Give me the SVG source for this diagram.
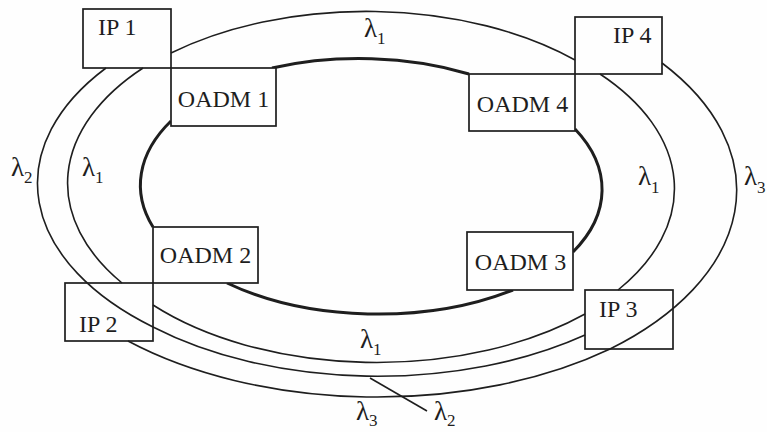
<svg xmlns="http://www.w3.org/2000/svg" width="767" height="432" viewBox="0 0 767 432">
<style>
.bg{fill:#fefefe}
.ring{fill:none;stroke:#1e1e1e;stroke-width:1.6}
.core{fill:none;stroke:#1e1e1e;stroke-width:3}
.ip{fill:none;stroke:#1e1e1e;stroke-width:1.7}
.oadm{fill:#ffffff;stroke:#1e1e1e;stroke-width:1.7}
.t{font-family:"Liberation Serif","Times New Roman",serif;font-size:24px;fill:#1e1e1e}
.l{font-size:27px}
.s{font-size:17px}
</style>
<rect class="bg" x="0" y="0" width="767" height="432"/>
<g id="connectors">
  <!-- inner physical ring -->
  <path class="core" d="M272,68 A232,129 0 0 1 469,74"/>
  <path class="core" d="M171,121 A232,129 0 0 0 153,227"/>
  <path class="core" d="M575,129 A232,129 0 0 1 573,252"/>
  <path class="core" d="M227,283 A232,129 0 0 0 513,290"/>
  <!-- lambda 1 -->
  <path class="ring" d="M171,53 A301,174 0 0 1 575,60"/>
  <path class="ring" d="M143,68 A301,174 0 0 0 122,283"/>
  <path class="ring" d="M600,74 A301,174 0 0 1 618,290"/>
  <path class="ring" d="M153,305 A301,174 0 0 0 585,314"/>
  <!-- lambda 2 -->
  <path class="ring" d="M106,68 A334,190 0 0 0 153,327 A334,190 0 0 0 585,335"/>
  <!-- lambda 3 -->
  <path class="ring" d="M662,63 A366,210 0 0 1 610,349 A366,210 0 0 1 128,341"/>
  <!-- leader for bottom lambda 2 -->
  <line class="ring" x1="370" y1="378" x2="427" y2="411"/>
</g>
<g id="IP1"><rect class="ip" x="83" y="9" width="88" height="59"/><text class="t" x="98" y="35">IP 1</text></g>
<g id="OADM1"><rect class="oadm" x="171" y="68" width="105" height="58"/><text class="t" x="223.5" y="107" text-anchor="middle">OADM 1</text></g>
<g id="IP4"><rect class="ip" x="575" y="17" width="87" height="57"/><text class="t" x="613" y="43">IP 4</text></g>
<g id="OADM4"><rect class="oadm" x="469" y="74" width="106" height="57"/><text class="t" x="522.5" y="112" text-anchor="middle">OADM 4</text></g>
<g id="OADM2"><rect class="oadm" x="153" y="227" width="105" height="56"/><text class="t" x="205.5" y="263" text-anchor="middle">OADM 2</text></g>
<g id="IP2"><rect class="ip" x="65" y="283" width="88" height="58"/><text class="t" x="79" y="332">IP 2</text></g>
<g id="OADM3"><rect class="oadm" x="467" y="232" width="106" height="58"/><text class="t" x="520.5" y="270" text-anchor="middle">OADM 3</text></g>
<g id="IP3"><rect class="ip" x="585" y="290" width="88" height="59"/><text class="t" x="599" y="317">IP 3</text></g>
<g id="labels">
  <text class="t l" x="364" y="37">λ<tspan class="s" dy="7">1</tspan></text>
  <text class="t l" x="11" y="176">λ<tspan class="s" dy="7">2</tspan></text>
  <text class="t l" x="82" y="176">λ<tspan class="s" dy="7">1</tspan></text>
  <text class="t l" x="638" y="185">λ<tspan class="s" dy="8">1</tspan></text>
  <text class="t l" x="744" y="185">λ<tspan class="s" dy="8">3</tspan></text>
  <text class="t l" x="360" y="348">λ<tspan class="s" dy="7">1</tspan></text>
  <text class="t l" x="356" y="420">λ<tspan class="s" dy="6">3</tspan></text>
  <text class="t l" x="434" y="420">λ<tspan class="s" dy="6">2</tspan></text>
</g>
</svg>
